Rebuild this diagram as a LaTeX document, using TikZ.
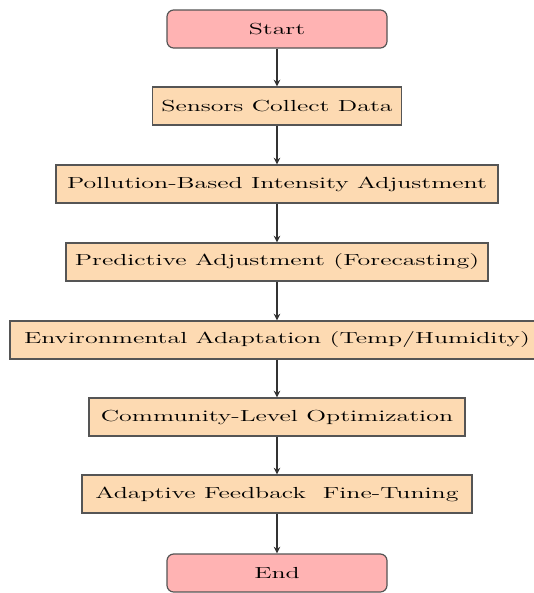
\documentclass[tikz,border=0pt]{standalone}
\usepackage{graphicx}
\usetikzlibrary{arrows.meta}
\definecolor{termfill}{HTML}{FFB3B3}
\definecolor{procfill}{HTML}{FDDAB2}
\definecolor{edgegray}{HTML}{555555}
\newcommand{\widetext}[1]{\scalebox{1.62}[1]{#1}}
\tikzset{
  terminal/.style={draw=edgegray, line width=0.9pt, fill=termfill, rounded corners=5pt,
    minimum width=220*0.75pt, minimum height=38*0.75pt, inner sep=0pt, font=\large},
  procbox/.style={draw=edgegray, line width=0.9pt, fill=procfill,
    minimum height=38*0.75pt, inner sep=0pt, font=\large},
  flow/.style={draw=black!80, line width=1.1pt, -{Stealth[length=5pt,width=5pt]}}
}
\begin{document}
\begin{tikzpicture}[x=0.75pt,y=-0.75pt]
\useasboundingbox (0,0) rectangle (534,593);
\node[terminal] (start) at (277,29) {\widetext{Start}};
\node[procbox, minimum width=249*0.75pt] (sense) at (277,106) {\widetext{Sensors Collect Data}};
\node[procbox, minimum width=442*0.75pt] (poll) at (277,184) {\widetext{Pollution-Based Intensity Adjustment}};
\node[procbox, minimum width=422*0.75pt] (pred) at (277,262) {\widetext{Predictive Adjustment (Forecasting)}};
\node[procbox, minimum width=534*0.75pt] (env) at (277,340) {\widetext{Environmental Adaptation (Temp/Humidity)}};
\node[procbox, minimum width=376*0.75pt] (comm) at (277,417) {\widetext{Community-Level Optimization}};
\node[procbox, minimum width=390*0.75pt] (adapt) at (277,494) {\widetext{Adaptive Feedback \ Fine-Tuning}};
\node[terminal] (end) at (277,573) {\widetext{End}};
\draw[flow] (start) -- (sense);
\draw[flow] (sense) -- (poll);
\draw[flow] (poll) -- (pred);
\draw[flow] (pred) -- (env);
\draw[flow] (env) -- (comm);
\draw[flow] (comm) -- (adapt);
\draw[flow] (adapt) -- (end);
\end{tikzpicture}
\end{document}
